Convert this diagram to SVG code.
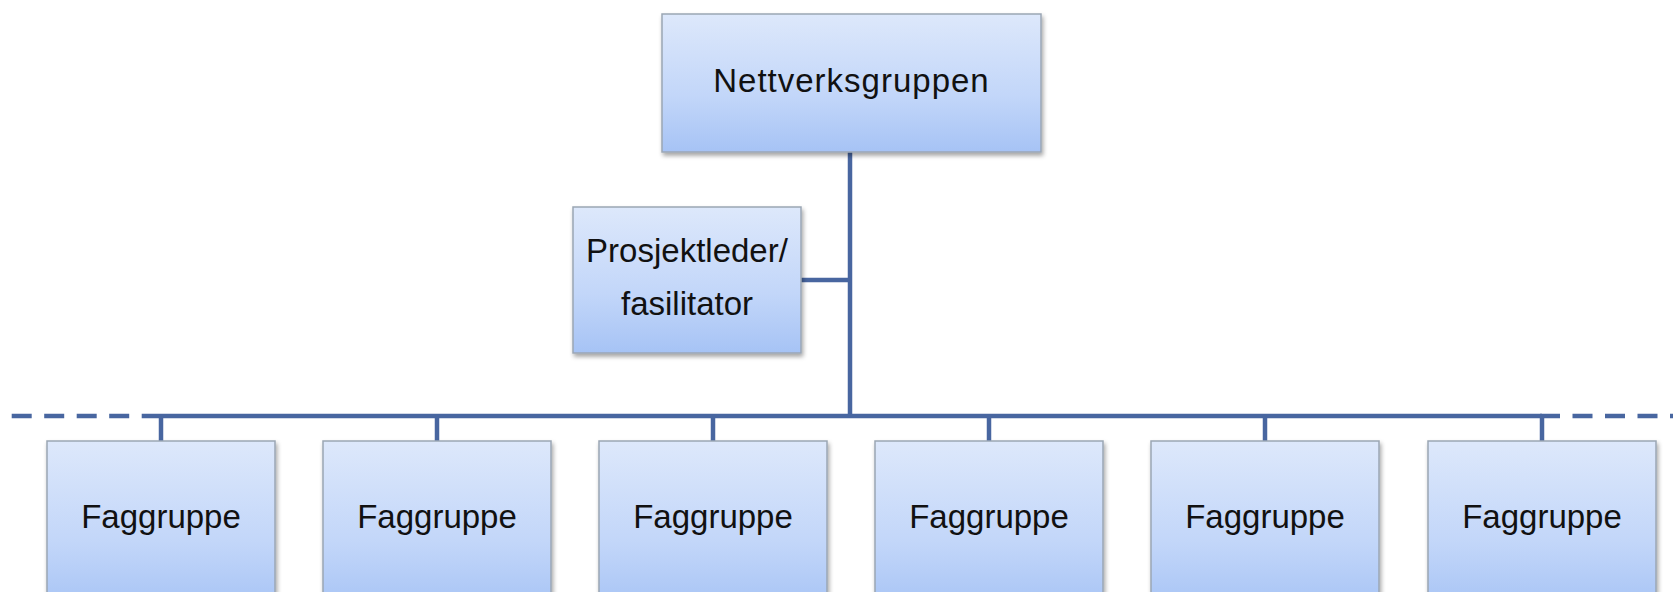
<svg xmlns="http://www.w3.org/2000/svg" width="1673" height="592" viewBox="0 0 1673 592">
<defs>
<linearGradient id="g" x1="0" y1="0" x2="0" y2="1">
<stop offset="0" stop-color="#dde8fb"/>
<stop offset="0.6" stop-color="#c2d6f9"/>
<stop offset="1" stop-color="#a6c3f5"/>
</linearGradient>
<filter id="sh" x="-10%" y="-10%" width="125%" height="130%">
<feDropShadow dx="1.5" dy="3" stdDeviation="2" flood-color="#000" flood-opacity="0.35"/>
</filter>
<style>
.box{fill:url(#g);stroke:#9ba6b4;stroke-width:1.5;filter:url(#sh)}
.t{font-family:"Liberation Sans",Arial,sans-serif;font-size:33px;fill:#111111;text-anchor:middle}
.ln{stroke:#4866a0;stroke-width:4.5;fill:none}
.dash{stroke:#4866a0;stroke-width:4.5;fill:none;stroke-dasharray:20 12.5}
</style>
</defs>
<rect width="1673" height="592" fill="#ffffff"/>
<g id="connectors">
<line class="ln" x1="850" y1="152" x2="850" y2="416"/>
<line class="ln" x1="801" y1="280" x2="850" y2="280"/>
<line class="ln" x1="161" y1="416" x2="1542" y2="416"/>
<line class="dash" x1="11.7" y1="416" x2="161" y2="416"/>
<line class="dash" x1="1540" y1="416" x2="1673" y2="416"/>
<line class="ln" x1="161" y1="416" x2="161" y2="441"/>
<line class="ln" x1="437" y1="416" x2="437" y2="441"/>
<line class="ln" x1="713" y1="416" x2="713" y2="441"/>
<line class="ln" x1="989" y1="416" x2="989" y2="441"/>
<line class="ln" x1="1265" y1="416" x2="1265" y2="441"/>
<line class="ln" x1="1542" y1="416" x2="1542" y2="441"/>
</g>
<g id="nettverksgruppen">
<rect class="box" x="662" y="14" width="379" height="138"/>
<text class="t" x="851.5" y="92" letter-spacing="1">Nettverksgruppen</text>
</g>
<g id="prosjektleder">
<rect class="box" x="573" y="207" width="228" height="146"/>
<text class="t" x="687" y="262">Prosjektleder/</text>
<text class="t" x="687" y="315">fasilitator</text>
</g>
<g id="faggruppe1">
<rect class="box" x="47" y="441" width="228" height="170"/>
<text class="t" x="161" y="528">Faggruppe</text>
</g>
<g id="faggruppe2">
<rect class="box" x="323" y="441" width="228" height="170"/>
<text class="t" x="437" y="528">Faggruppe</text>
</g>
<g id="faggruppe3">
<rect class="box" x="599" y="441" width="228" height="170"/>
<text class="t" x="713" y="528">Faggruppe</text>
</g>
<g id="faggruppe4">
<rect class="box" x="875" y="441" width="228" height="170"/>
<text class="t" x="989" y="528">Faggruppe</text>
</g>
<g id="faggruppe5">
<rect class="box" x="1151" y="441" width="228" height="170"/>
<text class="t" x="1265" y="528">Faggruppe</text>
</g>
<g id="faggruppe6">
<rect class="box" x="1428" y="441" width="228" height="170"/>
<text class="t" x="1542" y="528">Faggruppe</text>
</g>
</svg>
